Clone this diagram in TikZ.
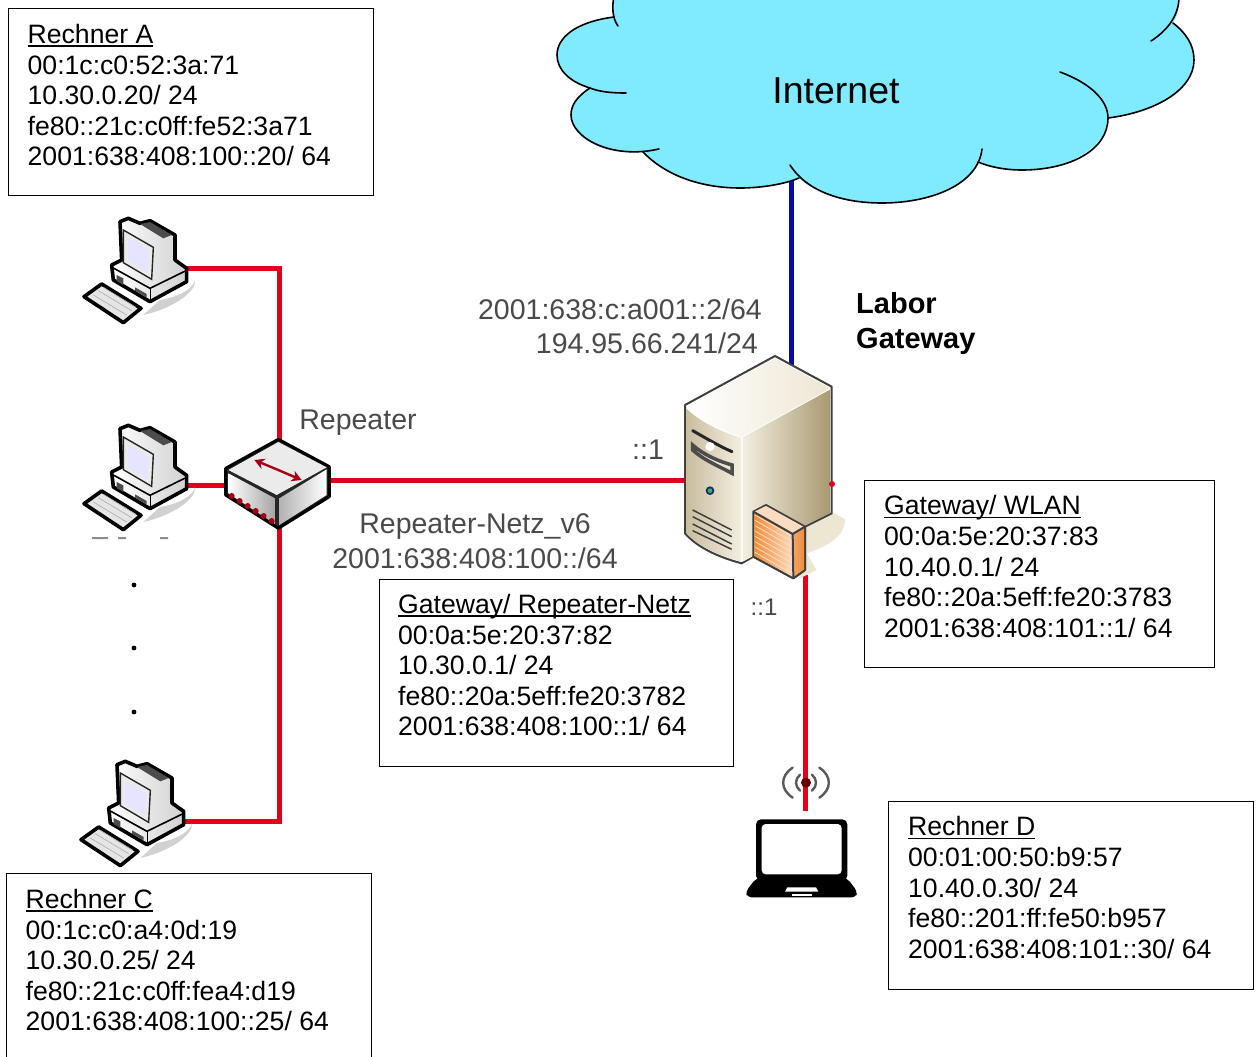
\documentclass[tikz,border=0pt]{standalone}
\usepackage{fontspec}
\setmainfont{Liberation Sans}
\usetikzlibrary{arrows.meta}
\definecolor{cloudc}{HTML}{80EBFF}
\definecolor{redl}{HTML}{E2001A}
\definecolor{bluel}{HTML}{0A0AAA}
\definecolor{graytxt}{HTML}{4A4A4A}
\definecolor{srvA}{HTML}{C9BD9E}
\definecolor{srvB}{HTML}{F3EEE0}
\definecolor{srvC}{HTML}{C4B592}
\definecolor{srvD}{HTML}{A8996F}
\definecolor{srvE}{HTML}{EDE6D3}
\definecolor{fwA}{HTML}{F2A564}
\definecolor{fwB}{HTML}{FBDCC0}
\definecolor{fwC}{HTML}{F08C3C}
\newcommand{\ulh}[1]{\setbox0\hbox{#1}\leavevmode\rlap{\rule[-3.4pt]{\wd0}{1.5pt}}\box0}
\tikzset{
  x=1pt,y=-1pt,
  wire/.style={draw=redl,line width=5pt,line join=miter},
  framebox/.style={draw=black,line width=1.4pt,fill=white,rectangle,anchor=north west,inner sep=0pt},
  infotext/.style={anchor=north west,inner sep=0pt,align=left,font=\fontsize{26.6}{30.6}\selectfont},
  graylabel/.style={text=graytxt,inner sep=0pt,font=\fontsize{28.5}{33}\selectfont},
  cloudline/.style={draw=black,line width=1.6pt,line cap=round},
  pics/computer/.style={code={
    \begin{scope}[scale=1/3]
      \fill[black!18] (300,300) .. controls (360,290) and (400,265) .. (405,240) .. controls (410,275) and (340,325) .. (250,345) -- cycle;
      \draw[black,line width=3.6pt,line join=round,left color=white,right color=black!18]
        (180,65) -- (205,55) -- (240,70) -- (270,62) -- (345,105) -- (345,180) -- (380,205) -- (380,245)
        -- (270,305) -- (160,240) -- (155,195) -- (185,180) -- cycle;
      \fill[black!70] (240,72) -- (270,66) -- (335,105) -- (310,115) -- cycle;
      \draw[black!85,line width=1.4pt,fill=black!8] (190,90) -- (280,142) -- (275,238) -- (190,188) -- cycle;
      \fill[blue!10!white] (205,112) -- (268,150) -- (262,218) -- (203,180) -- cycle;
      \draw[black,line width=1.6pt] (162,205) -- (270,265) -- (378,212);
      \draw[black,line width=1.5pt] (272,265) -- (272,302);
      \fill[black!70] (170,225) -- (190,235) -- (190,255) -- (170,243) -- cycle;
      \fill[black!70] (225,262) -- (260,282) -- (260,292) -- (225,272) -- cycle;
      \draw[black,line width=3.6pt,line join=round,fill=black!10]
        (72,290) -- (125,252) -- (243,325) -- (190,368) -- cycle;
      \draw[black!30,line width=.7pt] (100,285) -- (200,345) (115,272) -- (215,332) (130,262) -- (228,322);
    \end{scope}
  }},
}
\begin{document}
\begin{tikzpicture}
\clip (0,0) rectangle (1259,1057);
\useasboundingbox (0,0) rectangle (1259,1057);
\fill[white] (0,0) rectangle (1259,1057);

% anchors of the connectors
\coordinate (pcA) at (186,268);
\coordinate (pcB) at (186,485);
\coordinate (pcC) at (182,821);
\coordinate (swTop) at (279,442);
\coordinate (swLeft) at (228,485);
\coordinate (swRight) at (328,480);
\coordinate (swBot) at (279,526);
\coordinate (srvLeft) at (688,480);
\coordinate (srvTop) at (791,367);
\coordinate (srvBot) at (805,575);
\coordinate (srvRight) at (832,484);
\coordinate (cloudBot) at (791,170);
\coordinate (lapTop) at (805,811);

% blue uplink
\draw[bluel,line width=5pt] (cloudBot) -- (srvTop);

% cloud
\fill[cloudc] (614,-3)
  .. controls (612,5) and (612,12) .. (614,17)
  .. controls (575,22) and (557,38) .. (557,55)
  .. controls (557,70) and (570,82) .. (590,88)
  .. controls (576,97) and (571,106) .. (571,115)
  .. controls (571,137) and (600,155) .. (643,152)
  .. controls (665,175) and (700,188) .. (740,188)
  .. controls (762,188) and (785,184) .. (799,178)
  .. controls (815,193) and (845,203) .. (882,203)
  .. controls (925,203) and (968,185) .. (978,162)
  .. controls (990,167) and (1005,170) .. (1022,170)
  .. controls (1065,170) and (1106,150) .. (1108,118)
  .. controls (1155,112) and (1194,90) .. (1194,60)
  .. controls (1194,45) and (1186,33) .. (1173,23)
  .. controls (1177,17) and (1179,10) .. (1179,-3) -- cycle;
\draw[cloudline] (614,-3) .. controls (612,5) and (612,18) .. (618,26);
\draw[cloudline] (614,17) .. controls (575,22) and (557,38) .. (557,55)
  .. controls (557,70) and (570,82) .. (590,88) .. controls (600,92) and (612,93) .. (626,93);
\draw[cloudline] (590,88) .. controls (576,97) and (571,106) .. (571,115)
  .. controls (571,137) and (610,160) .. (659,149);
\draw[cloudline] (643,152) .. controls (665,175) and (700,188) .. (740,188)
  .. controls (762,188) and (785,184) .. (799,178);
\draw[cloudline] (790,165) .. controls (808,193) and (845,203) .. (882,203)
  .. controls (930,203) and (978,185) .. (982,149);
\draw[cloudline] (978,162) .. controls (990,167) and (1005,170) .. (1022,170)
  .. controls (1070,170) and (1108,150) .. (1108,118) .. controls (1108,100) and (1090,83) .. (1060,72);
\draw[cloudline] (1108,118) .. controls (1155,112) and (1194,90) .. (1194,60)
  .. controls (1194,45) and (1186,33) .. (1173,23);
\draw[cloudline] (1151,41) .. controls (1168,30) and (1179,15) .. (1179,-3);
\node (internet) at (836,91) [inner sep=0pt,font=\fontsize{37.5}{40}\selectfont] {Internet};

% red wires
\draw[wire] (pcA) -| (swTop);
\draw[wire] (pcB) -- (swLeft);
\draw[wire] (pcC) -| (swBot);
\draw[wire] (swRight) -- (srvLeft);
\draw[wire] (srvBot) -- (lapTop);

% computers
\pic at (60,200) {computer};
\pic at (60,407) {computer};
\pic at (57,743) {computer};
\fill[black!45] (92,537) rectangle (108,539) (118,537) rectangle (126,539) (160,537) rectangle (168,539);

% repeater
\begin{scope}[shift={(60,200)},scale=1/3]
  \fill[black!85,line join=round,draw=black,line width=3pt] (655,718) -- (808,800) -- (808,890) -- (655,985) -- (497,885) -- (497,805) -- cycle;
  \fill[white!92!black] (505,810) -- (655,726) -- (800,802) -- (650,885) -- cycle;
  \shade[left color=white,right color=black!35] (505,820) -- (645,895) -- (645,972) -- (505,880) -- cycle;
  \shade[left color=black!30,right color=white] (658,895) -- (800,808) -- (800,885) -- (658,975) -- cycle;
  \foreach \i in {0,...,5} \fill[redl!75!black] ({515+\i*24},{888+\i*15}) circle (9);
  \draw[redl!75!black,line width=2.4pt,-{Stealth[length=10pt,width=11pt]}] (650,808) -- (725,840);
  \draw[redl!75!black,line width=2.4pt,-{Stealth[length=10pt,width=11pt]}] (650,808) -- (583,780);
\end{scope}

% gateway server
\begin{scope}[shift={(660,340)},scale=1/3]
  \fill[srvE] (515,515) -- (555,538) .. controls (555,590) and (500,620) .. (440,640) -- (470,690) -- (420,715) -- (380,600) -- cycle;
  \draw[black!75,line width=2pt,line join=round,fill=white] (75,195) -- (345,48) -- (515,140) -- (515,520) -- (435,560) -- (435,690) -- (400,715) -- (280,650) -- (245,670) .. controls (170,650) and (110,620) .. (75,580) -- cycle;
  \shade[left color=white,right color=srvE] (80,200) -- (345,55) -- (510,145) -- (245,290) .. controls (180,270) and (120,240) .. (80,200) -- cycle;
  \shade[left color=srvA,right color=srvB] (78,205) .. controls (120,245) and (180,275) .. (243,293) -- (243,665) .. controls (170,645) and (110,615) .. (78,578) -- cycle;
  \shade[left color=srvB,middle color=srvC,right color=srvD] (248,292) -- (512,148) -- (512,518) -- (432,558) -- (280,648) -- (248,665) -- cycle;
  \draw[black!85,line width=3pt,line cap=round] (98,272) .. controls (130,290) and (180,320) .. (216,335);
  \fill[white] (150,320) circle (14);
  \draw[black!70,line width=3.5pt,fill=srvE] (98,315) .. controls (130,345) and (180,365) .. (216,375) -- (216,400) .. controls (180,380) and (130,360) .. (98,330) -- cycle;
  \fill[black!65!green!60!blue] (150,452) circle (13);
  \fill[green!25!gray] (150,452) circle (7);
  \draw[black!75,line width=1.5pt] (98,510) -- (215,570) (98,530) -- (215,590) (98,552) -- (215,612) (98,572) -- (215,628);
  \draw[black!75,line width=2pt,line join=round,fill=fwA] (280,515) -- (318,495) -- (435,560) -- (435,690) -- (400,715) -- (280,650) -- cycle;
  \shade[left color=fwA,right color=fwC] (400,585) -- (432,563) -- (432,688) -- (400,710) -- cycle;
  \fill[fwB] (283,515) -- (318,498) -- (430,560) -- (398,582) -- cycle;
  \shade[left color=fwC,right color=fwB] (283,518) -- (396,584) -- (398,710) -- (283,647) -- cycle;
  \foreach \i in {0,...,7} \draw[white!75!orange,line width=.8pt] (285,{525+\i*16}) -- (398,{590+\i*16});
  \draw[black!75,line width=2pt] (398,582) -- (400,712) (398,582) -- (435,560) (398,582) -- (280,515);
\end{scope}
\fill[redl] (srvRight) circle (3);

% laptop
\begin{scope}[shift={(730,750)},scale=1/3]
  \foreach \s in {1,-1}{
    \begin{scope}[shift={(228,98)},xscale=\s]
      \draw[black!65,line width=2.4pt,line cap=round] (-40,-45) .. controls (-78,-20) and (-78,20) .. (-40,45);
      \draw[black!65,line width=2.4pt,line cap=round] (-18,-24) .. controls (-34,-10) and (-34,10) .. (-18,24);
    \end{scope}}
  \fill[black!60!red] (228,98) circle (15);
  \fill[black,rounded corners=5] (78,208) rectangle (352,392);
  \fill[white,rounded corners=4] (95,222) rectangle (335,373);
  \fill[black,rounded corners=4] (78,385) -- (352,385) -- (382,425) -- (378,442) -- (52,442) -- (47,425) -- cycle;
  \fill[white] (172,412) -- (258,412) -- (265,425) -- (165,425) -- cycle;
  \fill[white] (187,431) rectangle (245,437);
\end{scope}

% dots
\foreach \y in {585,648,712} \fill[black] (134,\y) circle (2.4);

% info boxes
\node[framebox,minimum width=365pt,minimum height=187pt] (boxA) at (8,8) {};
\node[infotext] (txtA) at (27.5,24) {\ulh{Rechner A}\\00:1c:c0:52:3a:71\\10.30.0.20/ 24\\fe80::21c:c0ff:fe52:3a71\\2001:638:408:100::20/ 64};
\node[framebox,minimum width=365pt,minimum height=200pt] (boxC) at (6,873) {};
\node[infotext] (txtC) at (25.5,889) {\ulh{Rechner C}\\00:1c:c0:a4:0d:19\\10.30.0.25/ 24\\fe80::21c:c0ff:fea4:d19\\2001:638:408:100::25/ 64};
\node[framebox,minimum width=354pt,minimum height=187pt] (boxG) at (379,579) {};
\node[infotext] (txtG) at (398,594) {\ulh{Gateway/ Repeater-Netz}\\00:0a:5e:20:37:82\\10.30.0.1/ 24\\fe80::20a:5eff:fe20:3782\\2001:638:408:100::1/ 64};
\node[framebox,minimum width=350pt,minimum height=187pt] (boxW) at (864,480) {};
\node[infotext] (txtW) at (884,495.5) {\ulh{Gateway/ WLAN}\\00:0a:5e:20:37:83\\10.40.0.1/ 24\\fe80::20a:5eff:fe20:3783\\2001:638:408:101::1/ 64};
\node[framebox,minimum width=365pt,minimum height=188pt] (boxD) at (888,801) {};
\node[infotext] (txtD) at (908,816.5) {\ulh{Rechner D}\\00:01:00:50:b9:57\\10.40.0.30/ 24\\fe80::201:ff:fe50:b957\\2001:638:408:101::30/ 64};

% labels
\node[graylabel,anchor=east] (addr1) at (762,309) {2001:638:c:a001::2/64};
\node[graylabel,anchor=east] (addr2) at (758,343) {194.95.66.241/24};
\node[graylabel] (rep) at (358,423) {Repeater};
\node[graylabel] (net1) at (475,527) {Repeater-Netz\_v6};
\node[graylabel] (net2) at (475,558) {2001:638:408:100::/64};
\node[graylabel] (p1) at (648,450) {::1};
\node[graylabel,font=\fontsize{24}{28}\selectfont] (p2) at (764,607) {::1};
\node[anchor=west,inner sep=0pt,font=\bfseries\fontsize{29}{35}\selectfont,align=left] (gw) at (856,323) {Labor\\Gateway};
\end{tikzpicture}
\end{document}
